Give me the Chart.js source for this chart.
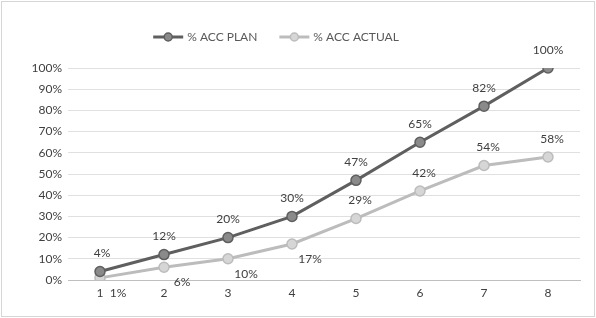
<!DOCTYPE html>
<html><head><meta charset="utf-8">
<script src="https://cdn.jsdelivr.net/npm/chart.js@4.4.0/dist/chart.umd.min.js"></script>
<style>html,body{margin:0;padding:0;background:#fff;}#wrap{width:596px;height:318px;}</style>
</head><body><div id="wrap"><canvas id="c" width="596" height="318"></canvas></div>
<script>
const categories = ['1','2','3','4','5','6','7','8'];
const planValues = [4, 12, 20, 30, 47, 65, 82, 100];
const actualValues = [1, 6, 10, 17, 29, 42, 54, 58];
const seriesNames = ['% ACC PLAN', '% ACC ACTUAL'];

const FONT = 'Lato, "Liberation Sans", sans-serif';
const colPlan = '#5f5f5f', colActual = '#bcbcbc';

const frame = {
  id: 'frame',
  beforeDraw(chart) {
    const c = chart.ctx;
    c.save(); c.fillStyle = '#fff'; c.fillRect(0,0,chart.width,chart.height);
    c.strokeStyle = '#d6d6d6'; c.lineWidth = 1;
    c.strokeRect(1.5, 1.5, chart.width-3, chart.height-3);
    c.restore();
  }
};

const legendDraw = {
  id: 'legendDraw',
  afterDraw(chart) {
    const c = chart.ctx;
    c.save();
    c.font = '12px ' + FONT;
    c.textBaseline = 'middle';
    const items = chart.data.datasets.map(d => ({label: d.label, color: d.borderColor, fill: d.pointBackgroundColor}));
    const seg = 30, gap = 4, between = 22;
    let total = 0;
    items.forEach((it, i) => { total += seg + gap + c.measureText(it.label).width + (i ? between : 0); });
    let x = 276 - total/2; const y = 37;
    items.forEach((it, i) => {
      if (i) x += between;
      c.strokeStyle = it.color; c.lineWidth = 3;
      c.beginPath(); c.moveTo(x, y); c.lineTo(x+seg, y); c.stroke();
      c.fillStyle = it.fill; c.lineWidth = 1.5;
      c.beginPath(); c.arc(x+seg/2, y, 4, 0, Math.PI*2); c.fill(); c.stroke();
      x += seg + gap;
      c.fillStyle = '#595959'; c.textAlign = 'left';
      c.fillText(it.label, x, y);
      x += c.measureText(it.label).width;
    });
    c.restore();
  }
};

const dataLabels = {
  id: 'dataLabels',
  afterDatasetsDraw(chart) {
    const c = chart.ctx;
    c.save();
    c.font = '12px ' + FONT;
    c.fillStyle = '#404040';
    c.textBaseline = 'middle'; c.textAlign = 'center';
    chart.data.datasets.forEach((ds, di) => {
      const meta = chart.getDatasetMeta(di);
      meta.data.forEach((pt, i) => {
        const txt = ds.data[i] + '%';
        let dx = 0, dy = -18;
        if (di === 1) {
          if (i < 4) { dx = 18; dy = 15; } else { dx = 4; dy = -18; }
        } else {
          if (i === 0) { dx = 2; dy = -18; }
        }
        c.fillText(txt, pt.x + dx, pt.y + dy);
      });
    });
    c.restore();
  }
};

new Chart(document.getElementById('c'), {
  type: 'line',
  data: {
    labels: categories,
    datasets: [
      { label: seriesNames[0], data: planValues, borderColor: colPlan, backgroundColor: colPlan,
        pointBackgroundColor: '#8a8a8a', pointBorderColor: colPlan, pointBorderWidth: 1.5,
        pointRadius: 5, borderWidth: 3, tension: 0 },
      { label: seriesNames[1], data: actualValues, borderColor: colActual, backgroundColor: colActual,
        pointBackgroundColor: '#d6d6d6', pointBorderColor: colActual, pointBorderWidth: 1.5,
        pointRadius: 5, borderWidth: 3, tension: 0 }
    ]
  },
  options: {
    responsive: false, animation: false, devicePixelRatio: 1,
    layout: { padding: { left: 28, right: 16, top: 68, bottom: 12 } },
    plugins: { legend: { display: false }, tooltip: { enabled: false } },
    scales: {
      x: {
        offset: true,
        grid: { display: false, drawTicks: false },
        border: { display: true, color: '#bfbfbf', width: 1 },
        ticks: { color: '#404040', font: { family: FONT, size: 12 }, padding: 6 },
        afterFit(s) { s.height = 26; }
      },
      y: {
        min: 0, max: 100,
        grid: { color: '#e0e0e0', drawTicks: false },
        border: { display: false },
        ticks: { stepSize: 10, color: '#404040', font: { family: FONT, size: 12 }, padding: 6,
                 callback: v => v + '%' },
        afterFit(s) { s.width = 40; }
      }
    }
  },
  plugins: [frame, legendDraw, dataLabels]
});
</script></body></html>
